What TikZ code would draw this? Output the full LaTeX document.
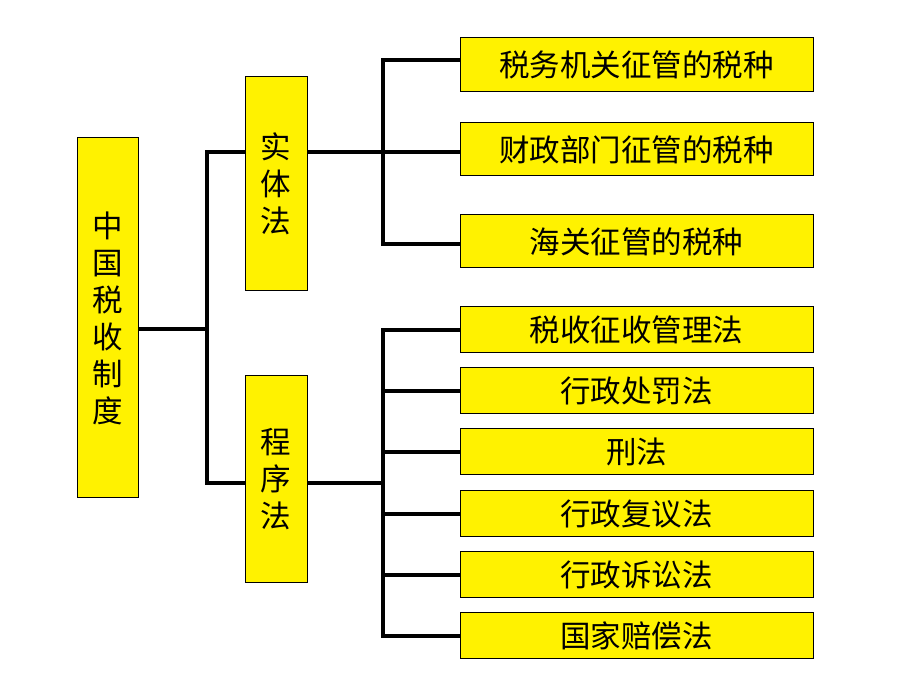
\documentclass[tikz,border=0pt]{standalone}
\usepackage{fontspec}
\newfontfamily\cjk{Noto Sans CJK SC}
\begin{document}
\begin{tikzpicture}[x=1pt,y=1pt,
  box/.style={draw=black, line width=1pt, fill=yellow, inner sep=0pt, align=center,
    font=\cjk\fontsize{30.5}{37}\selectfont},
  rbox/.style={box, minimum width=353pt},
  conn/.style={line width=3.7pt, line join=miter}]
\useasboundingbox[fill=white] (0,0) rectangle (920,690);
% boxes
\node[box, minimum width=61pt, minimum height=360pt] (root) at (107.5,372) {中\\国\\税\\收\\制\\度};
\node[box, minimum width=62pt, minimum height=214pt] (sti) at (276,506) {实\\体\\法};
\node[box, minimum width=62pt, minimum height=207pt] (cx) at (276,210.5) {程\\序\\法};
\node[rbox, minimum height=54pt] (r1) at (636.5,625) {税务机关征管的税种};
\node[rbox, minimum height=53pt] (r2) at (636.5,540.5) {财政部门征管的税种};
\node[rbox, minimum height=53pt] (r3) at (636.5,448.5) {海关征管的税种};
\node[rbox, minimum height=46pt] (s1) at (636.5,360) {税收征收管理法};
\node[rbox, minimum height=46pt] (s2) at (636.5,299) {行政处罚法};
\node[rbox, minimum height=46pt] (s3) at (636.5,238) {刑法};
\node[rbox, minimum height=46pt] (s4) at (636.5,176) {行政复议法};
\node[rbox, minimum height=46pt] (s5) at (636.5,115) {行政诉讼法};
\node[rbox, minimum height=46pt] (s6) at (636.5,54) {国家赔偿法};
% junction coordinates
\coordinate (j0) at (207,361);
\coordinate (ja) at (207,538);
\coordinate (jb) at (207,207);
\coordinate (ka) at (383,630);
\coordinate (kb) at (383,446);
\coordinate (kc) at (383,538);
\coordinate (kd) at (383,207);
% connectors
\draw[conn] (root.east |- j0) -- (j0);
\draw[conn] (sti.west |- ja) -- (ja) -- (jb) -- (cx.west |- jb);
\draw[conn] (sti.east |- kc) -- (r2.west |- kc);
\draw[conn] (r1.west |- ka) -- (ka) -- (kb) -- (r3.west |- kb);
\draw[conn] (cx.east |- kd) -- (kd);
\draw[conn] (s1.west) -- (s1.west -| kd) -- (s6.west -| kd) -- (s6.west);
\draw[conn] (s2.west) -- (s2.west -| kd);
\draw[conn] (s3.west) -- (s3.west -| kd);
\draw[conn] (s4.west) -- (s4.west -| kd);
\draw[conn] (s5.west) -- (s5.west -| kd);
\end{tikzpicture}
\end{document}
